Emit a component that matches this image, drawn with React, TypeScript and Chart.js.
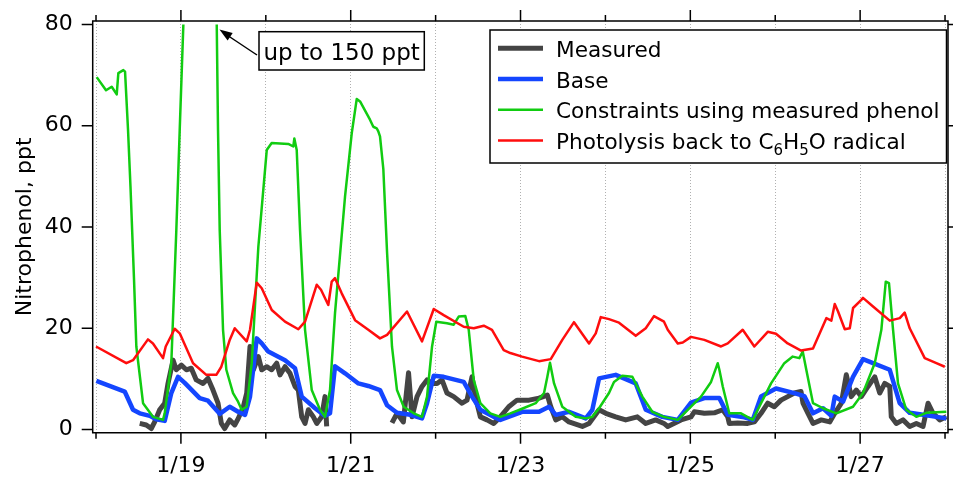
import React, { useEffect, useRef } from 'react';
import { Chart, registerables } from 'chart.js';

Chart.register(...registerables);

// ---- Data (x = day of January, fractional) ----
const measuredDay = [18.515, 18.592, 18.651, 18.691, 18.75, 18.809, 18.848, 18.907, 18.946, 19.005, 19.064, 19.122, 19.181, 19.26, 19.319, 19.378, 19.437, 19.476, 19.516, 19.575, 19.634, 19.676, 19.735, 19.775, 19.814, 19.853, 19.912, 19.952, 20.011, 20.069, 20.128, 20.167, 20.226, 20.285, 20.344, 20.383, 20.423, 20.462, 20.501, 20.56, 20.6, 20.658, 20.697, 20.717, 21.1, 21.486, 21.545, 21.62, 21.681, 21.722, 21.781, 21.84, 21.899, 21.958, 22.017, 22.075, 22.134, 22.213, 22.311, 22.37, 22.429, 22.468, 22.527, 22.605, 22.684, 22.762, 22.861, 22.959, 23.1, 23.218, 23.316, 23.356, 23.415, 23.492, 23.571, 23.728, 23.807, 23.925, 24.004, 24.121, 24.239, 24.376, 24.475, 24.592, 24.69, 24.734, 24.89, 25.008, 25.047, 25.165, 25.283, 25.382, 25.441, 25.459, 25.558, 25.676, 25.754, 25.833, 25.912, 25.989, 26.068, 26.147, 26.225, 26.304, 26.327, 26.386, 26.445, 26.543, 26.642, 26.701, 26.779, 26.837, 26.896, 26.955, 27.014, 27.093, 27.172, 27.231, 27.29, 27.349, 27.367, 27.426, 27.505, 27.584, 27.662, 27.741, 27.8, 27.859, 27.938, 28.015];
const measuredPpt = [1.2, 0.9, 0.2, 1.5, 3.9, 5.2, 9.1, 13.7, 11.8, 12.7, 11.8, 12.1, 9.8, 9.1, 10.1, 7.8, 5.2, 1.2, 0.2, 1.9, 0.9, 2.2, 4.5, 7.2, 16.4, 11.8, 14.4, 11.8, 12.4, 11.8, 13.1, 10.8, 12.4, 11.1, 8.5, 7.8, 2.5, 1.2, 3.9, 2.5, 1.2, 2.5, 6.5, 0.6, null, 1.3, 3.2, 1.5, 11.2, 2.5, 6.5, 8.5, 9.8, 9.1, 9.1, 9.8, 7.2, 6.5, 5.2, 5.8, 10.4, 6.5, 2.5, 1.9, 1.2, 2.5, 4.5, 5.8, 5.8, 6.2, 6.8, 4.5, 1.9, 2.5, 1.5, 0.6, 1.2, 3.9, 3.2, 2.5, 1.9, 2.5, 1.2, 1.9, 1.2, 0.6, 1.9, 2.5, 3.5, 3.2, 3.3, 3.9, 2.5, 1.2, 1.3, 1.2, 1.5, 3.2, 5.2, 4.5, 5.8, 6.5, 7.2, 7.5, 5.2, 3.2, 1.2, 1.9, 1.5, 3.2, 5.2, 10.8, 6.5, 7.8, 6.5, 8.5, 10.4, 7.2, 9.1, 8.5, 2.5, 1.2, 1.9, 0.6, 1.2, 0.6, 5.2, 3.2, 1.9, 2.5];

const baseDay = [18.004, 18.338, 18.436, 18.515, 18.633, 18.71, 18.809, 18.887, 18.966, 19.045, 19.221, 19.319, 19.457, 19.575, 19.673, 19.755, 19.814, 19.893, 19.952, 20.029, 20.226, 20.344, 20.423, 20.58, 20.697, 20.756, 20.815, 20.933, 21.09, 21.207, 21.345, 21.428, 21.545, 21.702, 21.84, 21.899, 21.978, 22.095, 22.331, 22.429, 22.527, 22.684, 22.762, 23.018, 23.218, 23.336, 23.415, 23.571, 23.768, 23.846, 23.925, 24.121, 24.357, 24.475, 24.67, 24.852, 25.008, 25.165, 25.342, 25.441, 25.636, 25.735, 25.833, 26.009, 26.225, 26.343, 26.445, 26.563, 26.661, 26.701, 26.799, 26.916, 27.034, 27.152, 27.349, 27.466, 27.584, 27.741, 28.015];
const basePpt = [9.6, 7.5, 3.9, 3.2, 2.7, 2.0, 1.7, 7.2, 10.4, 9.2, 6.2, 5.7, 3.1, 4.5, 3.5, 2.9, 6.5, 18.0, 17.0, 15.4, 13.7, 12.1, 6.5, 4.2, 2.7, 3.2, 12.5, 11.1, 9.1, 8.6, 7.8, 4.8, 3.3, 2.9, 2.2, 5.2, 10.6, 10.4, 9.4, 6.5, 3.9, 2.5, 1.9, 3.5, 3.5, 4.5, 2.9, 3.5, 2.2, 3.9, 10.1, 10.8, 9.1, 3.9, 2.5, 1.9, 5.3, 6.2, 6.2, 2.9, 2.4, 1.9, 6.5, 8.1, 7.2, 6.6, 3.2, 4.2, 2.7, 6.5, 5.5, 10.4, 13.9, 13.1, 11.8, 5.2, 3.3, 2.9, 2.2];

const phenolDay = [18.008, 18.118, 18.185, 18.244, 18.263, 18.322, 18.342, 18.377, 18.406, 18.448, 18.475, 18.554, 18.671, 18.789, 18.809, 18.887, 18.946, 18.986, 19.028, 19.131, 19.213, 19.319, 19.39, 19.422, 19.437, 19.457, 19.496, 19.535, 19.614, 19.673, 19.716, 19.775, 19.834, 19.912, 20.011, 20.069, 20.265, 20.324, 20.336, 20.364, 20.403, 20.462, 20.541, 20.638, 20.697, 20.756, 20.815, 20.933, 21.012, 21.071, 21.11, 21.227, 21.266, 21.306, 21.325, 21.345, 21.384, 21.428, 21.486, 21.545, 21.624, 21.742, 21.84, 21.899, 21.958, 22.008, 22.134, 22.213, 22.272, 22.35, 22.39, 22.449, 22.527, 22.644, 22.762, 22.88, 23.018, 23.179, 23.277, 23.316, 23.347, 23.395, 23.492, 23.65, 23.768, 23.846, 23.925, 24.042, 24.101, 24.199, 24.317, 24.435, 24.552, 24.69, 24.852, 25.008, 25.126, 25.244, 25.323, 25.342, 25.382, 25.459, 25.597, 25.735, 25.833, 25.951, 26.107, 26.206, 26.284, 26.324, 26.366, 26.445, 26.563, 26.72, 26.916, 27.034, 27.172, 27.25, 27.302, 27.34, 27.388, 27.446, 27.544, 27.662, 27.78, 28.015];
const phenolPpt = [69.6, 67.0, 67.7, 66.2, 70.4, 71.0, 70.7, 59.2, 48.0, 29.5, 16.4, 5.2, 2.5, 1.9, 3.2, 13.1, 39.4, 59.2, 79.6, 130, 150, 140, 105, 80, 59.2, 39.4, 19.7, 11.8, 7.2, 5.5, 3.9, 4.5, 13.1, 36.1, 55.2, 56.6, 56.4, 55.9, 57.5, 55.2, 39.4, 19.7, 7.8, 3.9, 2.5, 7.8, 23.0, 46.0, 58.5, 65.3, 64.8, 61.2, 59.8, 59.5, 58.9, 57.9, 51.5, 35.0, 16.4, 7.8, 4.5, 3.2, 2.5, 6.5, 16.4, 21.3, 21.0, 20.7, 22.3, 22.4, 19.7, 9.8, 5.2, 3.2, 2.5, 3.2, 4.1, 5.2, 7.2, 10.4, 13.2, 9.1, 4.5, 2.5, 2.2, 2.5, 4.2, 7.2, 9.4, 10.6, 10.4, 6.5, 3.5, 2.5, 1.9, 4.5, 6.5, 9.4, 13.1, 11.8, 8.5, 3.2, 3.2, 1.9, 5.2, 9.1, 13.1, 14.4, 14.1, 15.4, 11.8, 5.2, 4.2, 3.2, 4.5, 7.2, 13.1, 19.7, 29.2, 28.9, 19.7, 9.1, 3.9, 2.5, 3.3, 3.5];

const photolysisDay = [18.0, 18.357, 18.436, 18.612, 18.671, 18.789, 18.821, 18.927, 18.986, 19.143, 19.299, 19.417, 19.476, 19.575, 19.634, 19.775, 19.814, 19.893, 19.952, 20.07, 20.226, 20.383, 20.462, 20.6, 20.65, 20.736, 20.776, 20.815, 20.894, 21.051, 21.207, 21.345, 21.428, 21.663, 21.84, 21.978, 22.095, 22.331, 22.449, 22.567, 22.664, 22.802, 22.88, 23.018, 23.218, 23.356, 23.492, 23.63, 23.807, 23.886, 23.945, 24.042, 24.16, 24.357, 24.475, 24.572, 24.69, 24.734, 24.852, 24.911, 25.008, 25.165, 25.362, 25.441, 25.617, 25.754, 25.912, 26.009, 26.147, 26.304, 26.445, 26.602, 26.661, 26.701, 26.74, 26.819, 26.878, 26.917, 27.014, 27.034, 27.152, 27.349, 27.467, 27.525, 27.584, 27.761, 27.898, 27.997];
const photolysisPpt = [16.4, 13.1, 13.7, 17.8, 17.0, 14.1, 16.4, 19.9, 19.0, 13.1, 10.8, 10.8, 12.4, 17.7, 20.0, 17.4, 19.7, 29.0, 27.9, 23.6, 21.3, 19.8, 21.3, 28.6, 27.6, 24.6, 29.2, 29.9, 26.9, 21.6, 19.7, 18.0, 18.7, 23.3, 17.4, 23.8, 22.6, 20.3, 20.0, 20.5, 19.7, 15.7, 15.1, 14.4, 13.5, 13.9, 17.7, 21.2, 17.0, 19.0, 22.2, 21.8, 21.1, 18.5, 20.0, 22.4, 21.3, 19.7, 17.0, 17.2, 18.3, 17.7, 16.4, 17.0, 19.7, 16.4, 19.3, 18.9, 17.0, 15.6, 16.0, 22.0, 21.5, 24.8, 23.3, 19.8, 20.0, 24.0, 25.6, 26.0, 24.3, 21.5, 22.0, 23.1, 20.0, 14.1, 13.1, 12.4];

const xTickDays = [18, 19, 20, 21, 22, 23, 24, 25, 26, 27, 28];
const xLabelDays = [19, 21, 23, 25, 27];
const xLabelText = ['1/19', '1/21', '1/23', '1/25', '1/27'];
const yTickValues = [0, 20, 40, 60, 80];

const seriesLabels = ['Measured', 'Base', 'Constraints using measured phenol', 'Photolysis back to C_6H_5O radical'];
const seriesColors = ['#444444', '#1446ff', '#11cc11', '#ff0d0d'];
const seriesWidths = [5, 4.5, 2.5, 2.5];
const yTitle = 'Nitrophenol, ppt';
const noteText = 'up to 150 ppt';

const FONT = '"DejaVu Sans", Verdana, sans-serif';

function toPoints(days: number[], vals: (number | null)[]) {
  return days.map((d, i) => ({ x: d, y: vals[i] }));
}

function drawRichText(ctx: CanvasRenderingContext2D, text: string, x: number, y: number, size: number) {
  // "_d" marks a subscript digit
  let cx = x;
  let i = 0;
  let buf = '';
  const flush = () => {
    if (!buf) return;
    ctx.font = `${size}px ${FONT}`;
    ctx.fillText(buf, cx, y);
    cx += ctx.measureText(buf).width;
    buf = '';
  };
  while (i < text.length) {
    if (text[i] === '_' && i + 1 < text.length) {
      flush();
      const sub = text[i + 1];
      ctx.font = `${Math.round(size * 0.68)}px ${FONT}`;
      ctx.fillText(sub, cx, y + 6);
      cx += ctx.measureText(sub).width;
      i += 2;
    } else {
      buf += text[i];
      i++;
    }
  }
  flush();
}

const decorPlugin = {
  id: 'decor',
  afterDraw(chart: any) {
    const { ctx, chartArea: a, scales } = chart;
    const xs = scales.x;
    const ys = scales.y;
    ctx.save();
    // frame
    ctx.strokeStyle = '#000';
    ctx.lineWidth = 1.5;
    ctx.beginPath();
    ctx.rect(a.left, a.top, a.right - a.left, a.bottom - a.top);
    ctx.stroke();
    // ticks
    ctx.beginPath();
    xTickDays.forEach((d) => {
      const px = xs.getPixelForValue(d);
      const len = xLabelDays.includes(d) ? 11 : 6;
      ctx.moveTo(px, a.bottom);
      ctx.lineTo(px, a.bottom + len);
      ctx.moveTo(px, a.top);
      ctx.lineTo(px, a.top - len);
    });
    yTickValues.forEach((v) => {
      const py = ys.getPixelForValue(v);
      ctx.moveTo(a.left, py);
      ctx.lineTo(a.left - 11, py);
      ctx.moveTo(a.right, py);
      ctx.lineTo(a.right + 6, py);
    });
    ctx.stroke();

    // y title
    ctx.fillStyle = '#000';
    ctx.font = `22px ${FONT}`;
    ctx.save();
    ctx.translate(31, (a.top + a.bottom) / 2);
    ctx.rotate(-Math.PI / 2);
    ctx.textAlign = 'center';
    ctx.textBaseline = 'alphabetic';
    ctx.fillText(yTitle, 0, 0);
    ctx.restore();

    // legend
    const lx = 490, ly = 30, lw = 456.5, lh = 133;
    ctx.fillStyle = '#fff';
    ctx.fillRect(lx, ly, lw, lh);
    ctx.strokeStyle = '#000';
    ctx.lineWidth = 1.5;
    ctx.strokeRect(lx, ly, lw, lh);
    ctx.textAlign = 'left';
    ctx.textBaseline = 'alphabetic';
    seriesLabels.forEach((lab, i) => {
      const base = 56.7 + i * 30.8;
      const lineY = base - 8.5;
      ctx.strokeStyle = seriesColors[i];
      ctx.lineWidth = seriesWidths[i];
      ctx.beginPath();
      ctx.moveTo(498, lineY);
      ctx.lineTo(543, lineY);
      ctx.stroke();
      ctx.fillStyle = '#000';
      drawRichText(ctx, lab, 556, base, 21.6);
    });

    // annotation
    const bx = 259, by = 31.7, bw = 165.3, bh = 38.3;
    ctx.fillStyle = '#fff';
    ctx.fillRect(bx, by, bw, bh);
    ctx.strokeStyle = '#000';
    ctx.lineWidth = 1.5;
    ctx.strokeRect(bx, by, bw, bh);
    ctx.fillStyle = '#000';
    ctx.font = `23px ${FONT}`;
    ctx.textAlign = 'center';
    ctx.fillText(noteText, bx + bw / 2, 59.5);
    // arrow
    const tipX = xs.getPixelForValue(19.43) + 2, tipY = 29.5;
    const sx = 257, sy = 55;
    ctx.beginPath();
    ctx.lineWidth = 1.5;
    ctx.moveTo(sx, sy);
    ctx.lineTo(tipX + 6, tipY + 4.5);
    ctx.stroke();
    const ang = Math.atan2(sy - tipY, sx - tipX);
    const hl = 13, hw = 4.5;
    ctx.beginPath();
    ctx.moveTo(tipX, tipY);
    ctx.lineTo(tipX + hl * Math.cos(ang) - hw * Math.sin(ang), tipY + hl * Math.sin(ang) + hw * Math.cos(ang));
    ctx.lineTo(tipX + hl * Math.cos(ang) + hw * Math.sin(ang), tipY + hl * Math.sin(ang) - hw * Math.cos(ang));
    ctx.closePath();
    ctx.fill();
    ctx.restore();
  },
};

function zeroPad(s: any) {
  s.paddingTop = 0;
  s.paddingBottom = 0;
  s.paddingLeft = 0;
  s.paddingRight = 0;
}

export default function App() {
  const ref = useRef<HTMLCanvasElement>(null);
  useEffect(() => {
    if (!ref.current) return;
    const chart = new Chart(ref.current, {
      type: 'line',
      data: {
        datasets: [
          {
            label: 'Photolysis back to C6H5O radical',
            data: toPoints(photolysisDay, photolysisPpt),
            borderColor: seriesColors[3],
            borderWidth: seriesWidths[3],
            order: 1,
          },
          {
            label: 'Constraints using measured phenol',
            data: toPoints(phenolDay, phenolPpt),
            borderColor: seriesColors[2],
            borderWidth: seriesWidths[2],
            order: 2,
            clip: { left: 2, right: 2, top: -3.5, bottom: 2 },
          },
          {
            label: 'Base',
            data: toPoints(baseDay, basePpt),
            borderColor: seriesColors[1],
            borderWidth: seriesWidths[1],
            order: 3,
          },
          {
            label: 'Measured',
            data: toPoints(measuredDay, measuredPpt),
            borderColor: seriesColors[0],
            borderWidth: seriesWidths[0],
            spanGaps: false,
            order: 4,
          },
        ] as any,
      },
      options: {
        animation: false,
        responsive: true,
        maintainAspectRatio: false,
        layout: { padding: { top: 21, right: 5, left: 0, bottom: 0 } },
        elements: {
          point: { radius: 0, hoverRadius: 0 },
          line: { tension: 0, borderJoinStyle: 'round', borderCapStyle: 'butt', fill: false },
        },
        plugins: { legend: { display: false }, tooltip: { enabled: false } },
        events: [],
        scales: {
          x: {
            type: 'linear',
            min: 17.961,
            max: 28.035,
            afterBuildTicks: (s: any) => {
              s.ticks = xTickDays.map((v) => ({ value: v }));
            },
            afterFit: (s: any) => {
              s.height = 47.3;
              zeroPad(s);
            },
            grid: { display: true, color: '#b0b0b0', lineWidth: 1, drawTicks: false },
            border: { display: false, dash: [1, 2] },
            ticks: {
              autoSkip: false,
              maxRotation: 0,
              padding: 20,
              color: '#000',
              font: { family: FONT, size: 22 },
              callback: (v: any) => {
                const k = xLabelDays.indexOf(Number(v));
                return k >= 0 ? xLabelText[k] : '';
              },
            },
          },
          y: {
            type: 'linear',
            min: -0.63,
            max: 80.69,
            afterBuildTicks: (s: any) => {
              s.ticks = yTickValues.map((v) => ({ value: v }));
            },
            afterFit: (s: any) => {
              s.width = 92.7;
              zeroPad(s);
            },
            grid: { display: false, drawTicks: false },
            border: { display: false },
            ticks: {
              padding: 20,
              color: '#000',
              font: { family: FONT, size: 22 },
            },
          },
        },
      } as any,
      plugins: [decorPlugin],
    });
    return () => chart.destroy();
  }, []);
  return (
    <div style={{ position: 'absolute', left: 0, top: 0, width: 953, height: 480, background: '#fff' }}>
      <canvas ref={ref} />
    </div>
  );
}
